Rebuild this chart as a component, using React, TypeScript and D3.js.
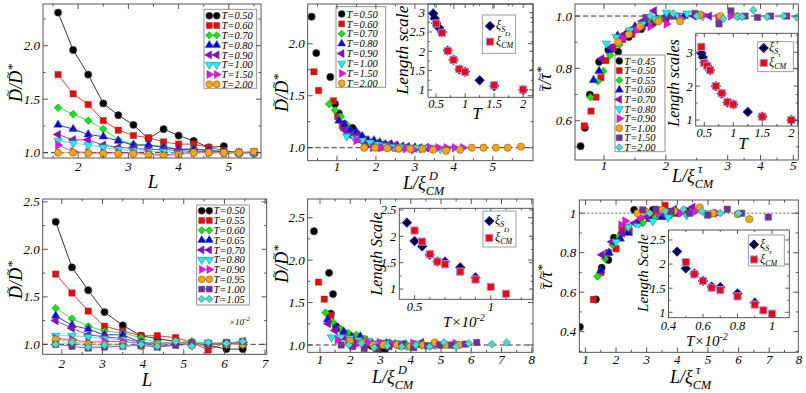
import React from "react";
import * as d3 from "d3";

const FONT = "'Liberation Serif','Times New Roman',serif";

// ================= DATA =================
// Top-left / top-middle: D/D* vs L
const TOP_T = ["0.50", "0.60", "0.70", "0.80", "0.90", "1.00", "1.50", "2.00"];
const TOP_STY = ["black", "red", "green", "blue", "violet", "cyan", "magenta", "orange"];
const TOP_L = [1.6, 1.9, 2.2, 2.5, 2.8, 3.1, 3.4, 3.7, 4.0, 4.3, 4.6, 4.9, 5.2, 5.5];
const D1_T050 = [2.31, 1.96, 1.73, 1.46, 1.35, 1.26, 1.13, 1.22, 1.16, 1.11, 1.05, 1.06];
const D1_T060 = [1.73, 1.55, 1.45, 1.3, 1.21, 1.16, 1.14, 1.1, 1.08, 1.08, 1.05, 1.02, 1.0, 1.01];
const D1_T070 = [1.42, 1.36, 1.3, 1.22, 1.12, 1.08, 1.07, 1.06, 1.03, 1.04, 1.02, 1.01, 1.0, 1.0];
const D1_T080 = [1.26, 1.22, 1.17, 1.15, 1.11, 1.07, 1.07, 1.05, 1.03, 1.03, 1.02, 1.01, 1.0, 1.0];
const D1_T090 = [1.17, 1.12, 1.12, 1.07, 1.05, 1.04, 1.03, 1.03, 1.02, 1.01, 1.01, 1.0, 1.0, 1.0];
const D1_T100 = [1.11, 1.09, 1.07, 1.05, 1.03, 1.02, 1.01, 1.01, 1.0, 1.0, 1.0, 1.0, 0.99, 0.99];
const D1_T150 = [1.07, 1.01, 1.0, 1.0, 1.0, 1.0, 0.99, 0.98, 0.99, 1.0, 1.0, 1.0, 1.0, 1.0];
const D1_T200 = [1.0, 1.0, 0.995, 0.99, 0.99, 0.99, 0.98, 0.97, 0.98, 1.0, 1.0, 1.0, 1.0, 1.01];
const D1_ALL = [D1_T050, D1_T060, D1_T070, D1_T080, D1_T090, D1_T100, D1_T150, D1_T200];

// top-middle collapse: L / xi_CM^D
const D2_X050 = [0.35, 0.47, 0.83, 0.95, 1.05, 1.19, 1.3, 1.4, 1.52, 1.65, 1.78, 1.9];
const D2_Y050 = [2.26, 1.91, 1.68, 1.42, 1.33, 1.23, 1.13, 1.19, 1.13, 1.09, 1.03, 1.03];
const D2_X060 = [0.41, 0.53, 0.91, 1.02, 1.14, 1.26, 1.38, 1.5, 1.62, 1.74, 1.86, 1.98, 2.1, 2.22];
const D2_X070 = [0.8, 0.95, 1.1, 1.25, 1.38, 1.5, 1.63, 1.76, 1.9, 2.03, 2.16, 2.3, 2.43, 2.56];
const D2_X080 = [1.05, 1.2, 1.35, 1.5, 1.65, 1.8, 1.95, 2.1, 2.25, 2.4, 2.55, 2.7, 2.85, 3.0];
const D2_X090 = [1.2, 1.36, 1.52, 1.68, 1.84, 2.0, 2.16, 2.32, 2.48, 2.64, 2.8, 2.96, 3.12, 3.28];
const D2_X100 = [1.25, 1.45, 1.65, 1.85, 2.05, 2.25, 2.45, 2.65, 2.85, 3.05, 3.25, 3.45, 3.65, 3.85];
const D2_X150 = [1.5, 1.71, 1.92, 2.13, 2.34, 2.55, 2.76, 2.97, 3.18, 3.39, 3.6, 3.81, 4.02, 4.23];
const D2_X200 = [1.7, 1.98, 2.29, 2.58, 2.88, 3.19, 3.47, 3.8, 4.16, 4.46, 4.76, 5.08, 5.38, 5.72];
const D2_XALL = [D2_X050, D2_X060, D2_X070, D2_X080, D2_X090, D2_X100, D2_X150, D2_X200];

// insets (length scales vs T)
const IN2_XIS_T = [0.45, 0.475, 0.5, 0.55, 0.6, 0.7, 0.8, 0.9, 1.0, 1.25, 1.5, 2.0];
const IN2_XIS_V = [2.98, 2.85, 2.73, 2.61, 2.5, 2.02, 1.78, 1.53, 1.47, 1.25, 1.1, 1.0];
const IN2_XICM_T = [0.5, 0.6, 0.7, 0.8, 0.9, 1.0, 1.5, 2.0];
const IN2_XICM_V = [2.72, 2.48, 2.01, 1.78, 1.54, 1.47, 1.12, 1.01];

// top-right: tau/tau* vs L/xi_CM^tau
const TAU_T = ["0.45", "0.50", "0.55", "0.60", "0.70", "0.80", "0.90", "1.00", "1.50", "2.00"];
const TAU_STY = ["black", "red", "green", "blue", "violet", "cyan", "magenta", "orange", "indigo", "teal"];
const P3_T045 = [[0.62, 0.503], [0.69, 0.573], [0.77, 0.7], [0.92, 0.825], [1.07, 0.87], [1.23, 0.864], [1.4, 0.92], [1.6, 0.95], [1.8, 0.975], [2.0, 0.99]];
const P3_T050 = [[0.68, 0.58], [0.79, 0.637], [0.87, 0.69], [0.95, 0.765], [1.03, 0.83], [1.15, 0.88], [1.3, 0.91], [1.45, 0.93], [1.62, 0.96], [1.8, 0.98], [2.0, 0.99], [2.2, 1.0]];
const P3_T055 = [[0.78, 0.69], [0.9, 0.75], [0.99, 0.79], [1.1, 0.85], [1.25, 0.89], [1.4, 0.93], [1.55, 0.95], [1.72, 0.97], [1.9, 0.99], [2.1, 1.0]];
const P3_T060 = [[0.83, 0.755], [0.92, 0.79], [1.1, 0.87], [1.22, 0.925], [1.35, 0.93], [1.5, 0.96], [1.68, 0.97], [1.85, 0.99], [2.05, 1.0], [2.3, 1.0]];
const P3_T070 = [[0.96, 0.837], [1.12, 0.88], [1.29, 0.925], [1.45, 0.95], [1.62, 0.98], [1.81, 1.02], [2.0, 1.0], [2.2, 0.995], [2.45, 1.0], [2.7, 1.0]];
const P3_T080 = [[1.04, 0.895], [1.2, 0.92], [1.42, 0.946], [1.62, 0.97], [1.82, 0.99], [2.01, 1.013], [2.2, 1.0], [2.34, 1.01], [2.6, 1.0], [2.85, 0.995]];
const P3_T090 = [[1.3, 0.915], [1.53, 0.946], [1.75, 0.96], [2.01, 0.97], [2.25, 0.99], [2.6, 1.004], [2.85, 0.99], [3.1, 1.0]];
const P3_T100 = [[1.23, 0.9], [1.4, 0.93], [1.58, 0.96], [1.88, 0.98], [2.23, 0.98], [2.55, 1.004], [2.88, 1.0], [3.3, 1.0]];
const P3_T150 = [[1.68, 0.995], [2.1, 1.0], [2.47, 1.01], [2.86, 0.97], [3.1, 1.02], [3.53, 1.0], [3.91, 0.995], [4.31, 1.0], [4.8, 1.0]];
const P3_T200 = [[1.75, 1.0], [2.12, 1.01], [2.5, 1.0], [2.93, 0.99], [3.29, 0.997], [3.44, 0.997], [3.78, 1.023], [4.2, 0.997], [4.7, 1.0], [5.1, 0.995]];
const P3_ALL = [P3_T045, P3_T050, P3_T055, P3_T060, P3_T070, P3_T080, P3_T090, P3_T100, P3_T150, P3_T200];

const IN3_XIS_T = [0.45, 0.475, 0.5, 0.55, 0.6, 0.7, 0.8, 0.9, 1.0, 1.25, 1.5, 2.0];
const IN3_XIS_V = [2.97, 2.85, 2.7, 2.6, 2.47, 2.0, 1.78, 1.52, 1.46, 1.24, 1.1, 1.0];
const IN3_XICM_T = [0.45, 0.5, 0.55, 0.6, 0.7, 0.8, 0.9, 1.0, 1.5, 2.0];
const IN3_XICM_V = [3.16, 2.68, 2.6, 2.47, 2.0, 1.79, 1.53, 1.46, 1.1, 1.0];

// bottom row
const BOT_T = ["0.50", "0.55", "0.60", "0.65", "0.70", "0.80", "0.90", "0.95", "1.00", "1.05"];
const BOT_STY = ["black", "red", "green", "blue", "violet", "cyan", "magenta", "orange", "indigo", "teal"];
const BOT_L = [1.85, 2.25, 2.65, 3.05, 3.5, 3.95, 4.35, 4.8, 5.2, 5.6, 6.05, 6.45];
const D4_T050 = [2.29, 1.81, 1.57, 1.34, 1.2, 1.09, 1.06, 1.03, 1.0, 0.99, 0.95, 0.95];
const D4_T055 = [1.74, 1.54, 1.35, 1.19, 1.14, 1.09, 1.09, 1.07, 1.02, 0.94, 1.02, 1.01];
const D4_T060 = [1.38, 1.27, 1.19, 1.14, 1.12, 1.07, 1.01, 1.02, 1.03, 1.01, 1.02, 1.0];
const D4_T065 = [1.3, 1.2, 1.16, 1.1, 1.1, 1.02, 1.01, 1.02, 1.01, 1.0, 1.0, 1.0];
const D4_T070 = [1.25, 1.17, 1.1, 1.08, 1.06, 1.02, 0.98, 1.0, 1.0, 1.0, 1.0, 1.03];
const D4_T080 = [1.09, 1.09, 1.08, 1.06, 1.05, 1.02, 1.02, 1.02, 0.99, 1.02, 1.0, 1.0];
const D4_T090 = [1.06, 1.05, 1.02, 1.03, 1.03, 1.01, 1.0, 1.02, 1.0, 1.0, 1.01, 1.02];
const D4_T095 = [1.05, 1.03, 1.0, 1.0, 1.0, 0.98, 1.0, 1.03, 1.0, 1.0, 1.0, 1.0];
const D4_T100 = [1.0, 0.98, 0.96, 0.97, 0.98, 0.99, 0.97, 0.99, 1.0, 1.0, 1.01, 1.03];
const D4_T105 = [1.0, 1.02, 0.97, 0.99, 0.98, 1.0, 0.98, 1.03, 0.98, 1.02, 1.01, 1.03];
const D4_ALL = [D4_T050, D4_T055, D4_T060, D4_T065, D4_T070, D4_T080, D4_T090, D4_T095, D4_T100, D4_T105];

const D5_Y050 = [2.34, 1.85, 1.6, 1.37, 1.22, 1.1, 1.06, 1.03, 1.0, 0.99, 0.95, 0.95];
const D5_X050 = [0.8, 1.3, 1.43, 1.36, 1.53, 1.8, 2.0, 2.25, 2.5, 2.7, 2.95, 3.15];
const D5_X055 = [0.95, 1.14, 1.36, 1.56, 1.79, 2.03, 2.23, 2.46, 2.67, 2.87, 3.1, 3.3];
const D5_X060 = [1.18, 1.42, 1.68, 1.93, 2.2, 2.48, 2.75, 3.02, 3.3, 3.55, 3.82, 4.08];
const D5_X065 = [1.25, 1.52, 1.78, 2.05, 2.33, 2.62, 2.9, 3.2, 3.48, 3.75, 4.05, 4.32];
const D5_X070 = [1.27, 1.5, 1.78, 2.05, 2.35, 2.66, 2.93, 3.23, 3.5, 3.77, 4.07, 4.35];
const D5_X080 = [1.38, 1.68, 1.98, 2.27, 2.6, 2.95, 3.25, 3.57, 3.87, 4.17, 4.5, 4.8];
const D5_X090 = [1.58, 1.92, 2.26, 2.6, 2.98, 3.37, 3.7, 4.08, 4.42, 4.76, 5.13, 5.48];
const D5_X095 = [1.99, 2.38, 2.76, 3.1, 3.55, 3.98, 4.4, 4.8, 5.0, 5.19, 5.4, 5.6];
const D5_X100 = [1.7, 2.08, 2.46, 2.85, 3.28, 3.7, 4.1, 4.55, 4.95, 5.35, 5.8, 6.18];
const D5_X105 = [1.95, 2.37, 2.79, 3.22, 3.7, 4.17, 4.62, 5.1, 5.5, 5.92, 6.68, 7.17];
const D5_XALL = [D5_X050, D5_X055, D5_X060, D5_X065, D5_X070, D5_X080, D5_X090, D5_X095, D5_X100, D5_X105];

const IN5_XIS_T = [0.45, 0.5, 0.55, 0.6, 0.65, 0.7, 0.8, 0.9];
const IN5_XIS_V = [2.26, 1.91, 1.81, 1.65, 1.52, 1.52, 1.41, 1.22];
const IN5_XICM_T = [0.5, 0.55, 0.6, 0.65, 0.7, 0.8, 0.9, 1.0, 1.1];
const IN5_XICM_V = [2.11, 1.9, 1.66, 1.52, 1.47, 1.33, 1.18, 1.04, 0.91];

const P6_T050 = [[0.82, 0.424], [1.34, 0.563], [1.53, 0.724], [1.75, 0.763], [1.93, 0.876], [2.2, 0.9], [2.59, 1.017], [3.2, 1.017], [3.8, 1.0], [4.3, 1.01]];
const P6_T055 = [[1.26, 0.563], [1.51, 0.7], [1.75, 0.8], [2.0, 0.82], [2.2, 0.92], [2.43, 0.91], [2.8, 0.97], [3.2, 0.99], [3.6, 1.04], [4.0, 1.0]];
const P6_T060 = [[1.39, 0.68], [1.64, 0.77], [1.89, 0.84], [2.1, 0.88], [2.4, 0.93], [2.87, 0.95], [3.3, 0.98], [3.8, 0.99]];
const P6_T065 = [[1.5, 0.71], [1.77, 0.8], [2.14, 0.87], [2.4, 0.9], [2.7, 0.95], [3.1, 0.97], [3.5, 0.98], [4.0, 1.0]];
const P6_T070 = [[1.54, 0.79], [1.86, 0.855], [2.2, 0.9], [2.6, 0.95], [3.0, 0.98], [3.5, 1.0], [3.9, 1.02], [4.5, 1.03]];
const P6_T080 = [[2.0, 0.855], [2.4, 0.93], [2.7, 0.935], [3.2, 0.96], [3.7, 0.98], [4.3, 0.99], [4.9, 1.0]];
const P6_T090 = [[2.17, 0.94], [2.3, 0.96], [2.8, 0.98], [3.4, 1.0], [4.1, 1.0], [4.6, 1.01], [5.3, 1.0]];
const P6_T095 = [[2.7, 1.0], [2.95, 1.01], [3.5, 1.017], [3.9, 1.01], [4.73, 1.03], [5.16, 1.0], [5.97, 0.995], [6.35, 0.97]];
const P6_T100 = [[2.87, 1.017], [3.3, 1.02], [3.8, 1.01], [4.4, 1.0], [5.0, 0.99], [5.63, 1.02], [6.1, 1.0], [6.97, 0.98]];
const P6_T105 = [[3.1, 1.0], [3.6, 1.01], [4.2, 1.02], [4.8, 1.01], [5.4, 1.0], [6.0, 1.0]];
const P6_ALL = [P6_T050, P6_T055, P6_T060, P6_T065, P6_T070, P6_T080, P6_T090, P6_T095, P6_T100, P6_T105];

const IN6_XIS_T = [0.45, 0.5, 0.55, 0.6, 0.65, 0.7, 0.8, 0.9];
const IN6_XIS_V = [2.26, 1.91, 1.8, 1.65, 1.53, 1.52, 1.39, 1.2];
const IN6_XICM_T = [0.5, 0.55, 0.6, 0.65, 0.7, 0.8, 0.9, 0.95, 1.0];
const IN6_XICM_V = [2.04, 1.79, 1.65, 1.51, 1.46, 1.33, 1.16, 1.04, 0.97];

// ================= STYLES =================
const STY: Record<string, { sym: string; fill: string }> = {
  black: { sym: "circle", fill: "#000000" },
  red: { sym: "square", fill: "#ff0000" },
  green: { sym: "diamond", fill: "#00ee00" },
  blue: { sym: "up", fill: "#0000ff" },
  violet: { sym: "left", fill: "#9400d3" },
  cyan: { sym: "down", fill: "#00ffff" },
  magenta: { sym: "right", fill: "#ff00ff" },
  orange: { sym: "circle", fill: "#ffa500" },
  indigo: { sym: "square", fill: "#7030a0" },
  teal: { sym: "diamond", fill: "#40e0d0" },
};
const SYMS: Record<string, { type: any; size: number; rot: number }> = {
  circle: { type: d3.symbolCircle, size: 42, rot: 0 },
  square: { type: d3.symbolSquare, size: 40, rot: 0 },
  diamond: { type: d3.symbolSquare, size: 30, rot: 45 },
  up: { type: d3.symbolTriangle, size: 32, rot: 0 },
  left: { type: d3.symbolTriangle, size: 32, rot: -90 },
  down: { type: d3.symbolTriangle, size: 32, rot: 180 },
  right: { type: d3.symbolTriangle, size: 32, rot: 90 },
};

function Mark({ x, y, sym, fill, stroke = "#555", sw = 0.5, scale = 1 }: any) {
  const s = SYMS[sym];
  const d = d3.symbol().type(s.type).size(s.size * scale)() as string;
  return <path d={d} transform={`translate(${x},${y}) rotate(${s.rot})`} fill={fill} stroke={stroke} strokeWidth={sw} />;
}

function Axes({ xs, ys, xMaj, xMin, yMaj, yMin, xFmt, yFmt, xLabY, fs = 13, maj = 5, mn = 2.5 }: any) {
  const xr = xs.range();
  const yr = ys.range();
  const X0 = xr[0], X1 = xr[xr.length - 1], Yb = yr[0], Yt = yr[yr.length - 1];
  const st = "#444";
  return (
    <g stroke={st} strokeWidth={0.9}>
      {xMin.map((v: number, i: number) => (
        <g key={"xm" + i}>
          <line x1={xs(v)} x2={xs(v)} y1={Yb} y2={Yb - mn} />
          <line x1={xs(v)} x2={xs(v)} y1={Yt} y2={Yt + mn} />
        </g>
      ))}
      {xMaj.map((v: number, i: number) => (
        <g key={"xM" + i}>
          <line x1={xs(v)} x2={xs(v)} y1={Yb} y2={Yb - maj} />
          <line x1={xs(v)} x2={xs(v)} y1={Yt} y2={Yt + maj} />
          <text x={xs(v)} y={xLabY} textAnchor="middle" fontSize={fs} fontStyle="italic" stroke="none" fill="#000">{xFmt(v)}</text>
        </g>
      ))}
      {yMin.map((v: number, i: number) => (
        <g key={"ym" + i}>
          <line x1={X0} x2={X0 + mn} y1={ys(v)} y2={ys(v)} />
          <line x1={X1} x2={X1 - mn} y1={ys(v)} y2={ys(v)} />
        </g>
      ))}
      {yMaj.map((v: number, i: number) => (
        <g key={"yM" + i}>
          <line x1={X0} x2={X0 + maj} y1={ys(v)} y2={ys(v)} />
          <line x1={X1} x2={X1 - maj} y1={ys(v)} y2={ys(v)} />
          <text x={X0 - 3} y={ys(v) + fs * 0.35} textAnchor="end" fontSize={fs} fontStyle="italic" stroke="none" fill="#000">{yFmt(v)}</text>
        </g>
      ))}
      <rect x={X0} y={Yt} width={X1 - X0} height={Yb - Yt} fill="none" />
    </g>
  );
}

function ClipRect({ id, xs, ys }: any) {
  const xr = xs.range(), yr = ys.range();
  const X0 = xr[0], X1 = xr[xr.length - 1], Yb = yr[0], Yt = yr[yr.length - 1];
  return (
    <defs>
      <clipPath id={id}>
        <rect x={X0} y={Yt} width={X1 - X0} height={Yb - Yt} />
      </clipPath>
    </defs>
  );
}

function Unity({ xs, ys, dash = "5,3", sw = 1 }: any) {
  const xr = xs.range();
  return <line x1={xr[0]} x2={xr[xr.length - 1]} y1={ys(1)} y2={ys(1)} stroke="#333" strokeWidth={sw} strokeDasharray={dash} />;
}

function TLegend({ x, y, w, h, y0, dy, s1, s2, tx, labels, styles }: any) {
  return (
    <g>
      <rect x={x} y={y} width={w} height={h} fill="#fff" stroke="#888" strokeWidth={0.9} />
      {labels.map((lab: string, i: number) => {
        const st = STY[styles[i]];
        const yy = y0 + i * dy;
        return (
          <g key={i}>
            {s2 !== undefined && <line x1={s1} x2={s2} y1={yy} y2={yy} stroke={st.fill} strokeWidth={0.8} />}
            <Mark x={s1} y={yy} sym={st.sym} fill={st.fill} scale={0.9} />
            {s2 !== undefined && <Mark x={s2} y={yy} sym={st.sym} fill={st.fill} scale={0.9} />}
            <text x={tx} y={yy + 3.6} fontSize={10.5} fontStyle="italic">{"T=" + lab}</text>
          </g>
        );
      })}
    </g>
  );
}

function XiLeg({ x, y, w, h, mx, r1, r2, tx, sup1, sup2 }: any) {
  return (
    <g fontStyle="italic">
      <rect x={x} y={y} width={w} height={h} fill="#fff" stroke="#888" strokeWidth={0.8} />
      <Mark x={mx} y={r1} sym="diamond" fill="#000" stroke="#0000ff" sw={1} scale={1.3} />
      <text x={tx} y={r1 + 3} fontSize={12}>ξ<tspan dy={3} fontSize={8}>S</tspan></text>
      {sup1 && <text x={tx + 7} y={r1 - 4} fontSize={7}>{sup1}</text>}
      <Mark x={mx} y={r2} sym="square" fill="#ff0000" stroke="#9a9aff" sw={1} scale={1.3} />
      <text x={tx} y={r2 + 3} fontSize={12}>ξ<tspan dy={3} fontSize={8}>CM</tspan></text>
      {sup2 && <text x={tx + 9} y={r2 - 6} fontSize={7}>{sup2}</text>}
    </g>
  );
}

function XiLabel({ x, y, sup, fs = 18 }: any) {
  return (
    <g fontStyle="italic">
      <text x={x} y={y} fontSize={fs}>L/ξ<tspan dy={fs * 0.35} fontSize={fs * 0.68}>CM</tspan></text>
      <text x={x + fs * 1.45} y={y - fs * 0.5} fontSize={fs * 0.68}>{sup}</text>
    </g>
  );
}

// rotated label like D~/D~*  (tilde drawn as its own glyph above the symbol)
function YLab({ x, y, sym, fs = 18 }: any) {
  const isD = sym === "D";
  const w = isD ? fs * 0.72 : fs * 0.46;
  const tfs = fs * 0.72;
  const tw = tfs * 0.54;
  const up = isD ? fs * 0.55 : fs * 0.38;
  const back = -(w / 2 + tw / 2) + (isD ? 2 : 1);
  const fwd = w - (w + back + tw);
  return (
    <text transform={`translate(${x},${y}) rotate(-90)`} textAnchor="middle" fontSize={fs} fontStyle="italic">
      <tspan>{sym}</tspan>
      <tspan dx={back} dy={-up} fontSize={tfs}>~</tspan>
      <tspan dx={fwd} dy={up}>/</tspan>
      <tspan>{sym}</tspan>
      <tspan dx={back} dy={-up} fontSize={tfs}>~</tspan>
      <tspan dx={fwd} dy={up - 6} fontSize={fs * 0.75}>*</tspan>
    </text>
  );
}

function Series({ xs, ys, pts, style, line }: any) {
  const st = STY[style];
  const gen = d3.line<number[]>().x((d) => xs(d[0])).y((d) => ys(d[1]));
  return (
    <g>
      {line && <path d={gen(pts) as string} fill="none" stroke={st.fill} strokeWidth={0.8} />}
      {pts.map((p: number[], i: number) => (
        <Mark key={i} x={xs(p[0])} y={ys(p[1])} sym={st.sym} fill={st.fill} />
      ))}
    </g>
  );
}

function Inset({ xs, ys, xMaj, xMin, yMaj, yMin, xFmt, yFmt, xLabY, sT, sV, cT, cV, bg }: any) {
  return (
    <g>
      <rect x={bg[0]} y={bg[1]} width={bg[2] - bg[0]} height={bg[3] - bg[1]} fill="#fff" />
      {sT.map((t: number, i: number) => (
        <Mark key={"s" + i} x={xs(t)} y={ys(sV[i])} sym="diamond" fill="#000" stroke="#0000ff" sw={1} scale={1.3} />
      ))}
      {cT.map((t: number, i: number) => (
        <Mark key={"c" + i} x={xs(t)} y={ys(cV[i])} sym="square" fill="#ff0000" stroke="#9a9aff" sw={1} scale={1.3} />
      ))}
      <Axes xs={xs} ys={ys} xMaj={xMaj} xMin={xMin} yMaj={yMaj} yMin={yMin} xFmt={xFmt} yFmt={yFmt} xLabY={xLabY} fs={12.5} maj={4} mn={2} />
    </g>
  );
}

const f1 = (v: number) => v.toFixed(1);
const fg = (v: number) => String(+v.toFixed(2));
const fi = (v: number) => String(v);

// ================= PANELS =================
function Panel1() {
  const xs = d3.scaleLinear().domain([1.3, 5.64]).range([43, 261]);
  const ys = d3.scaleLinear().domain([0.95, 2.39]).range([158, 4]);
  return (
    <g>
      <ClipRect id="c1" xs={xs} ys={ys} />
      <Unity xs={xs} ys={ys} />
      <g clipPath="url(#c1)">
        {D1_ALL.map((arr, i) => (
          <Series key={i} xs={xs} ys={ys} pts={arr.map((v, j) => [TOP_L[j], v])} style={TOP_STY[i]} line />
        ))}
      </g>
      <TLegend x={204} y={9.3} w={52.7} h={79} y0={15.7} dy={9.8} s1={209.3} s2={216.7} tx={221.5} labels={TOP_T} styles={TOP_STY} />
      <Axes xs={xs} ys={ys} xMaj={[2, 3, 4, 5]} xMin={[1.5, 2.5, 3.5, 4.5, 5.5]} yMaj={[1, 1.5, 2]} yMin={[1.25, 1.75, 2.25]} xFmt={fi} yFmt={f1} xLabY={171} />
      <text x={153} y={188} textAnchor="middle" fontSize={19} fontStyle="italic">L</text>
      <YLab x={21.5} y={83} sym="D" />
    </g>
  );
}

function Panel2() {
  const xs = d3.scaleLinear().domain([0.25, 6.03]).range([307.7, 533]);
  const ys = d3.scaleLinear().domain([0.875, 2.382]).range([160.7, 4]);
  const ix = d3.scaleLinear().domain([0.36, 2.17]).range([428, 533]);
  const iy = d3.scaleLinear().domain([0.81, 3.225]).range([97.3, 4]);
  return (
    <g>
      <ClipRect id="c2" xs={xs} ys={ys} />
      <Unity xs={xs} ys={ys} />
      <g clipPath="url(#c2)">
        {D1_ALL.map((arr, i) => {
          const yv = i === 0 ? D2_Y050 : arr;
          return <Series key={i} xs={xs} ys={ys} pts={yv.map((v, j) => [D2_XALL[i][j], v])} style={TOP_STY[i]} />;
        })}
      </g>
      <TLegend x={336} y={6.7} w={49.7} h={80.6} y0={14} dy={9.9} s1={341.7} tx={346.5} labels={TOP_T} styles={TOP_STY} />
      <Inset xs={ix} ys={iy} xMaj={[0.5, 1, 1.5, 2]} xMin={[0.75, 1.25, 1.75]} yMaj={[1, 1.5, 2, 2.5, 3]} yMin={[1.25, 1.75, 2.25, 2.75]} xFmt={fi} yFmt={fi} xLabY={108} sT={IN2_XIS_T} sV={IN2_XIS_V} cT={IN2_XICM_T} cV={IN2_XICM_V} bg={[396, 4, 533, 122]} />
      <XiLeg x={482.3} y={15} w={33.4} h={38.3} mx={490} r1={26} r2={41.7} tx={496} sup2="D" />
      <text transform="translate(408,50) rotate(-90)" textAnchor="middle" fontSize={17.5} fontStyle="italic">Length scale</text>
      <text x={477} y={119} textAnchor="middle" fontSize={17} fontStyle="italic">T</text>
      <Axes xs={xs} ys={ys} xMaj={[1, 2, 3, 4, 5]} xMin={[0.5, 1.5, 2.5, 3.5, 4.5, 5.5]} yMaj={[1, 1.5, 2]} yMin={[1.25, 1.75, 2.25]} xFmt={fi} yFmt={f1} xLabY={171} />
      <XiLabel x={403} y={189} sup="D" />
      <YLab x={288} y={93} sym="D" />
    </g>
  );
}

function Panel3() {
  const xs = d3.scaleLinear().domain([0.53, 1, 3, 5, 5.14]).range([575, 604, 727.7, 793.3, 798.3]);
  const ys = d3.scaleLinear().domain([0.45, 1.046]).range([160, 4]);
  const ix = d3.scaleLinear().domain([0.352, 2.11]).range([695.7, 797.7]);
  const iy = d3.scaleLinear().domain([0.823, 3.56]).range([126, 33.3]);
  return (
    <g>
      <ClipRect id="c3" xs={xs} ys={ys} />
      <Unity xs={xs} ys={ys} />
      <g clipPath="url(#c3)">
        {P3_ALL.map((arr, i) => (
          <Series key={i} xs={xs} ys={ys} pts={arr} style={TAU_STY[i]} />
        ))}
      </g>
      <TLegend x={615} y={55} w={50} h={96.7} y0={61} dy={9.6} s1={619.3} tx={624.3} labels={TAU_T} styles={TAU_STY} />
      <Inset xs={ix} ys={iy} xMaj={[0.5, 1, 1.5, 2]} xMin={[0.75, 1.25, 1.75]} yMaj={[1, 2, 3]} yMin={[1.5, 2.5, 3.5]} xFmt={fi} yFmt={fi} xLabY={136.5} sT={IN3_XIS_T} sV={IN3_XIS_V} cT={IN3_XICM_T} cV={IN3_XICM_V} bg={[669, 33.3, 798, 152]} />
      <XiLeg x={757.7} y={41.7} w={35.6} h={30} mx={763.7} r1={48} r2={63} tx={769} sup1="τ" sup2="τ" />
      <text transform="translate(679,83) rotate(-90)" textAnchor="middle" fontSize={16} fontStyle="italic">Length scales</text>
      <text x={743} y={149} textAnchor="middle" fontSize={17} fontStyle="italic">T</text>
      <Axes xs={xs} ys={ys} xMaj={[1, 2, 3, 4, 5]} xMin={[1.5, 2.5, 3.5, 4.5]} yMaj={[0.6, 0.8, 1.0]} yMin={[0.5, 0.7, 0.9]} xFmt={fi} yFmt={f1} xLabY={170} />
      <XiLabel x={672} y={182} sup="τ" />
      <YLab x={551} y={79} sym="τ" />
    </g>
  );
}

function Panel4() {
  const xs = d3.scaleLinear().domain([1.53, 7.04]).range([42.7, 266.7]);
  const ys = d3.scaleLinear().domain([0.895, 2.53]).range([354.3, 199]);
  return (
    <g>
      <ClipRect id="c4" xs={xs} ys={ys} />
      <Unity xs={xs} ys={ys} />
      <g clipPath="url(#c4)">
        {D4_ALL.map((arr, i) => (
          <Series key={i} xs={xs} ys={ys} pts={arr.map((v, j) => [BOT_L[j], v])} style={BOT_STY[i]} line />
        ))}
      </g>
      <TLegend x={196.7} y={205} w={52.6} h={100} y0={210.7} dy={9.8} s1={201.7} s2={209.3} tx={213.5} labels={BOT_T} styles={BOT_STY} />
      <text x={229} y={325} fontSize={9} fontStyle="italic">×10<tspan dy={-4} fontSize={7}>-2</tspan></text>
      <Axes xs={xs} ys={ys} xMaj={[2, 3, 4, 5, 6, 7]} xMin={[2.5, 3.5, 4.5, 5.5, 6.5]} yMaj={[1, 1.5, 2, 2.5]} yMin={[1.25, 1.75, 2.25]} xFmt={fi} yFmt={f1} xLabY={368} />
      <text x={147} y={386} textAnchor="middle" fontSize={19} fontStyle="italic">L</text>
      <YLab x={21.5} y={280} sym="D" />
    </g>
  );
}

function Panel5() {
  const xs = d3.scaleLinear().domain([0.593, 8.04]).range([307.7, 533]);
  const ys = d3.scaleLinear().domain([0.914, 2.72]).range([352.3, 199]);
  const ix = d3.scaleLinear().domain([0.4, 1.277]).range([399.3, 533]);
  const iy = d3.scaleLinear().domain([0.805, 2.532]).range([299.3, 208.3]);
  return (
    <g>
      <ClipRect id="c5" xs={xs} ys={ys} />
      <Unity xs={xs} ys={ys} />
      <g clipPath="url(#c5)">
        {D4_ALL.map((arr, i) => {
          const yv = i === 0 ? D5_Y050 : arr;
          return <Series key={i} xs={xs} ys={ys} pts={yv.map((v, j) => [D5_XALL[i][j], v])} style={BOT_STY[i]} />;
        })}
      </g>
      <Inset xs={ix} ys={iy} xMaj={[0.5, 1]} xMin={[0.6, 0.7, 0.8, 0.9, 1.1, 1.2]} yMaj={[1, 1.5, 2, 2.5]} yMin={[1.25, 1.75, 2.25]} xFmt={fi} yFmt={fi} xLabY={311} sT={IN5_XIS_T} sV={IN5_XIS_V} cT={IN5_XICM_T} cV={IN5_XICM_V} bg={[368, 208.3, 533, 330]} />
      <XiLeg x={483} y={211} w={33} h={36} mx={489.3} r1={221} r2={238} tx={495} sup2="D" />
      <text transform="translate(382,254) rotate(-90)" textAnchor="middle" fontSize={16} fontStyle="italic">Length Scale</text>
      <text x={443} y={327} fontSize={15} fontStyle="italic">T×10<tspan dy={-6} fontSize={10}>-2</tspan></text>
      <Axes xs={xs} ys={ys} xMaj={[1, 2, 3, 4, 5, 6, 7, 8]} xMin={[1.5, 2.5, 3.5, 4.5, 5.5, 6.5, 7.5]} yMaj={[1, 1.5, 2, 2.5]} yMin={[1.25, 1.75, 2.25]} xFmt={fi} yFmt={f1} xLabY={364} />
      <XiLabel x={372} y={383} sup="D" />
      <YLab x={288} y={264} sym="D" />
    </g>
  );
}

function Panel6() {
  const xs = d3.scaleLinear().domain([0.8, 7.95]).range([579.3, 798.3]);
  const ys = d3.scaleLinear().domain([0.2955, 1.067]).range([352.3, 200]);
  const ix = d3.scaleLinear().domain([0.4, 1.1]).range([668.5, 789.3]);
  const iy = d3.scaleLinear().domain([0.888, 2.707]).range([317.7, 230]);
  return (
    <g>
      <ClipRect id="c6" xs={xs} ys={ys} />
      <Unity xs={xs} ys={ys} dash="2,2" sw={0.8} />
      <g clipPath="url(#c6)">
        {P6_ALL.map((arr, i) => (
          <Series key={i} xs={xs} ys={ys} pts={arr} style={BOT_STY[i]} />
        ))}
      </g>
      <Inset xs={ix} ys={iy} xMaj={[0.4, 0.6, 0.8, 1]} xMin={[0.5, 0.7, 0.9]} yMaj={[1, 1.5, 2, 2.5]} yMin={[1.25, 1.75, 2.25]} xFmt={fg} yFmt={fi} xLabY={330} sT={IN6_XIS_T} sV={IN6_XIS_V} cT={IN6_XICM_T} cV={IN6_XICM_V} bg={[636, 228, 790, 349]} />
      <XiLeg x={748.3} y={235} w={36} h={31} mx={754} r1={244.5} r2={259.5} tx={760} sup2="τ" />
      <text transform="translate(648,273) rotate(-90)" textAnchor="middle" fontSize={15} fontStyle="italic">Length Scale</text>
      <text x={686} y={346} fontSize={15} fontStyle="italic">T×10<tspan dy={-6} fontSize={10}>-2</tspan></text>
      <Axes xs={xs} ys={ys} xMaj={[1, 2, 3, 4, 5, 6, 7]} xMin={[1.5, 2.5, 3.5, 4.5, 5.5, 6.5, 7.5]} yMaj={[0.4, 0.6, 0.8, 1]} yMin={[0.3, 0.5, 0.7, 0.9]} xFmt={fi} yFmt={fg} xLabY={364} />
      <text x={799} y={364} textAnchor="middle" fontSize={13} fontStyle="italic">8</text>
      <XiLabel x={670} y={383} sup="τ" />
      <YLab x={552} y={277} sym="τ" />
    </g>
  );
}

export default function App() {
  return (
    <svg width={806} height={393} style={{ position: "absolute", left: 0, top: 0, background: "#fff" }} fontFamily={FONT}>
      <rect width={806} height={393} fill="#fff" />
      <Panel1 />
      <Panel2 />
      <Panel3 />
      <Panel4 />
      <Panel5 />
      <Panel6 />
    </svg>
  );
}
